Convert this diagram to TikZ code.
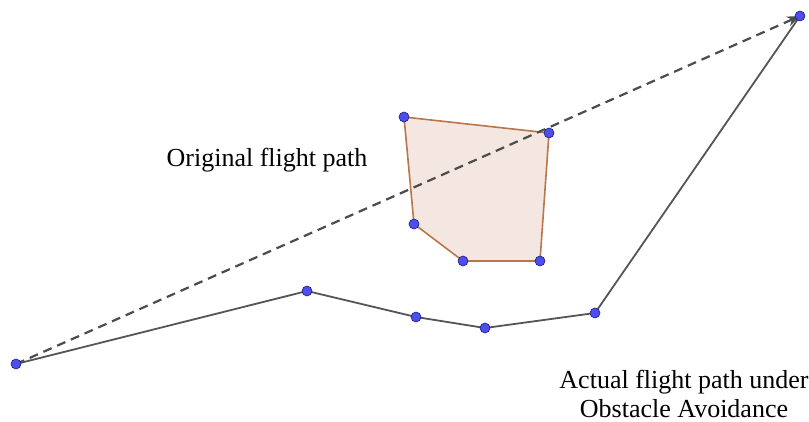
\documentclass[tikz,border=0pt]{standalone}
\usepackage{fontspec}
\setmainfont{Liberation Serif}
\usetikzlibrary{arrows.meta}
\definecolor{ptblue}{HTML}{4D4DF0}
\definecolor{ptedge}{HTML}{1A1A7A}
\definecolor{obsfill}{HTML}{F4E6E0}
\definecolor{obsedge}{HTML}{B8764A}
\definecolor{pathgray}{HTML}{555555}
\tikzset{
  pt/.style={circle,fill=ptblue,draw=ptedge,line width=0.6pt,inner sep=0pt,minimum size=10pt},
  label text/.style={font=\fontsize{26}{29}\selectfont,align=center,text=black},
  actual/.style={draw=pathgray,line width=1.8pt},
  original/.style={draw=pathgray!90!black,line width=2.2pt,dash pattern=on 9pt off 6pt,-{Stealth[length=13pt,width=10pt]}},
  obstacle/.style={draw=obsedge,fill=obsfill,line width=1.6pt,line join=round}
}
\begin{document}
\begin{tikzpicture}[x=1pt,y=-1pt]
\useasboundingbox (0,0) rectangle (809,422);
% coordinates
\coordinate (A) at (16,364);
\coordinate (B) at (800,16);
\coordinate (P1) at (307,291);
\coordinate (P2) at (416,317);
\coordinate (P3) at (485,328);
\coordinate (P4) at (595,313);
\coordinate (Q1) at (404,117);
\coordinate (Q2) at (549,133);
\coordinate (Q3) at (540,261);
\coordinate (Q4) at (463,261);
\coordinate (Q5) at (414,224);
% obstacle
\path[obstacle] (Q1) -- (Q2) -- (Q3) -- (Q4) -- (Q5) -- cycle;
% actual path
\draw[actual] (A) -- (P1) -- (P2) -- (P3) -- (P4) -- (B);
% original path
\draw[original] (A) -- (B);
% points
\foreach \p in {A,B,P1,P2,P3,P4,Q1,Q2,Q3,Q4,Q5} \node[pt] (n\p) at (\p) {};
% labels
\node[label text] (orig) at (267,160) {Original flight path};
\node[label text] (act) at (684,394) {Actual flight path under\\Obstacle Avoidance};
\end{tikzpicture}
\end{document}
